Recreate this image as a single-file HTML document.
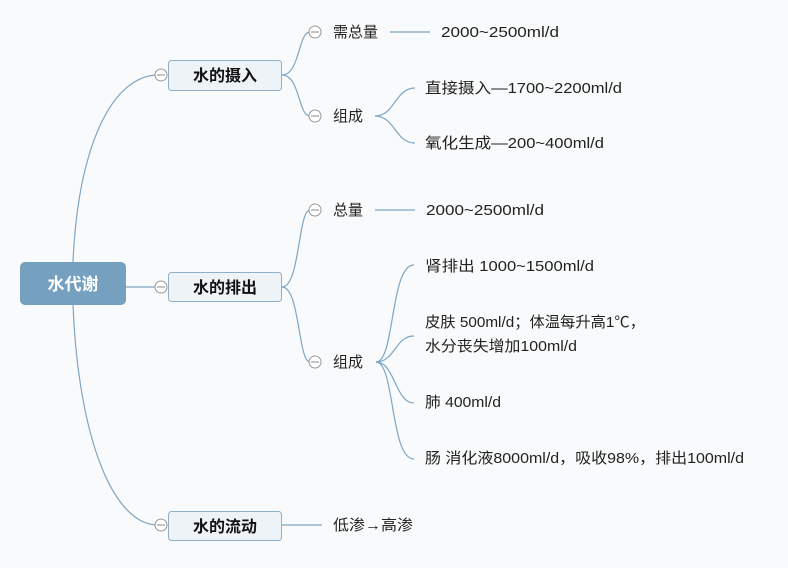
<!DOCTYPE html>
<html><head><meta charset="utf-8"><style>
body{margin:0;background:#f9fafb;}
svg text{font-family:"Liberation Sans","Noto Sans CJK SC",sans-serif;}
</style></head><body>
<svg width="788" height="563" viewBox="0 0 788 563" xmlns="http://www.w3.org/2000/svg">
<rect width="788" height="563" fill="#f9fafb"/>
<g fill="none" stroke="#7fa6c4" stroke-width="1.2">
<path d="M73 262 C78 150 110 78 156 75"/>
<path d="M73 305 C78 430 110 522 156 525"/>
<path d="M126 287 L156 287"/>
<path d="M282 75 C300 75 298 32 310 32"/>
<path d="M282 75 C300 75 298 116 310 116"/>
<path d="M282 287 C300 287 298 210 310 210"/>
<path d="M282 287 C300 287 298 362 310 362"/>
<path d="M282 525 L322 525"/>
<path d="M390 32 L430 32"/>
<path d="M375 210 L415 210"/>
<path d="M375 116 C395 116 395 88 415 88"/>
<path d="M375 116 C395 116 395 143 415 143"/>
<path d="M376 362 C395 362 390 265 414 265"/>
<path d="M376 362 C395 362 395 336 414 336"/>
<path d="M376 362 C395 362 395 403 414 403"/>
<path d="M376 362 C395 362 390 459 414 459"/>
</g>
<rect x="20" y="262" width="106" height="43" rx="5" fill="#76a0bf"/>
<text x="73" y="290" text-anchor="middle" font-size="17" font-weight="bold" fill="#fff">水代谢</text>
<g fill="#eef3f7" stroke="#8fb0c8" stroke-width="1">
<rect x="168.5" y="60.5" width="113" height="30" rx="3"/>
<rect x="168.5" y="272.5" width="113" height="29" rx="3"/>
<rect x="168.5" y="511.5" width="113" height="29" rx="3"/>
</g>
<g font-size="16" font-weight="bold" fill="#111" text-anchor="middle">
<text x="225" y="81">水的摄入</text>
<text x="225" y="293">水的排出</text>
<text x="225" y="532">水的流动</text>
</g>
<g fill="#fff" stroke="#999" stroke-width="1">
<circle cx="161" cy="75" r="6"/><circle cx="161" cy="287" r="6"/><circle cx="161" cy="525" r="6"/>
<circle cx="315" cy="32" r="6"/><circle cx="315" cy="116" r="6"/><circle cx="315" cy="210" r="6"/><circle cx="315" cy="362" r="6"/>
</g>
<g stroke="#888" stroke-width="1">
<path d="M157 75h8M157 287h8M157 525h8M311 32h8M311 116h8M311 210h8M311 362h8"/>
</g>
<g font-size="15" fill="#222">
<text x="333" y="37">需总量</text>
<text x="333" y="121">组成</text>
<text x="333" y="215">总量</text>
<text x="333" y="367">组成</text>
<text x="333" y="530" textLength="80" lengthAdjust="spacingAndGlyphs">低渗→高渗</text>
<text x="441" y="37" textLength="118" lengthAdjust="spacingAndGlyphs">2000~2500ml/d</text>
<text x="425" y="93" textLength="197" lengthAdjust="spacingAndGlyphs">直接摄入—1700~2200ml/d</text>
<text x="425" y="148" textLength="179" lengthAdjust="spacingAndGlyphs">氧化生成—200~400ml/d</text>
<text x="426" y="215" textLength="118" lengthAdjust="spacingAndGlyphs">2000~2500ml/d</text>
<text x="425" y="271" textLength="169" lengthAdjust="spacingAndGlyphs">肾排出 1000~1500ml/d</text>
<text x="425" y="327" textLength="220" lengthAdjust="spacingAndGlyphs">皮肤 500ml/d；体温每升高1℃，</text>
<text x="425" y="351" textLength="152" lengthAdjust="spacingAndGlyphs">水分丧失增加100ml/d</text>
<text x="425" y="407" textLength="76" lengthAdjust="spacingAndGlyphs">肺 400ml/d</text>
<text x="425" y="463" textLength="319" lengthAdjust="spacingAndGlyphs">肠 消化液8000ml/d，吸收98%，排出100ml/d</text>
</g>
</svg>
</body></html>
